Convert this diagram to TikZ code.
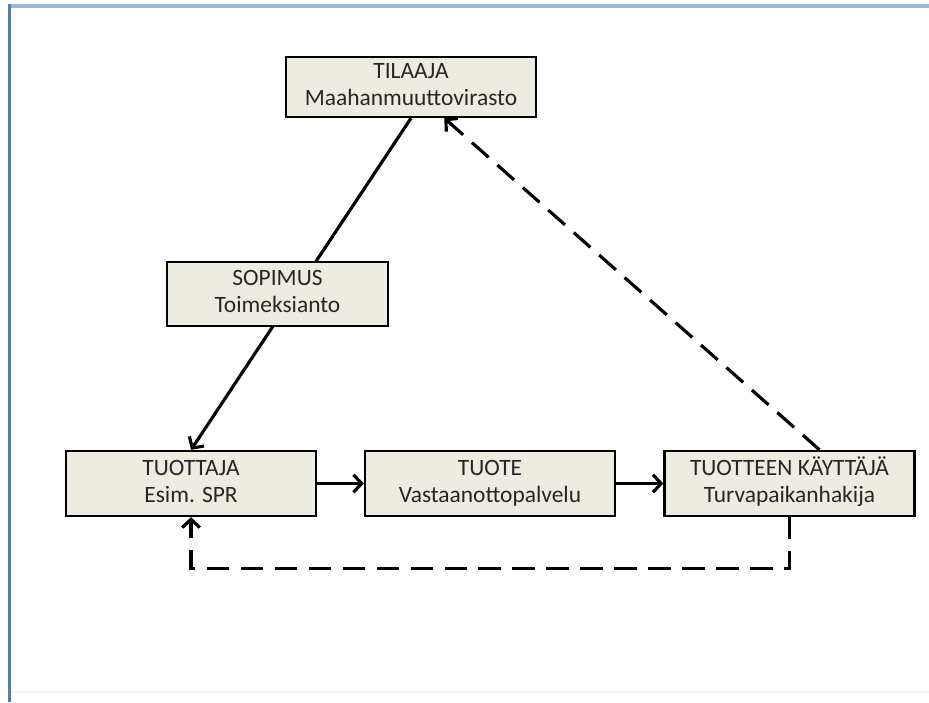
\documentclass[tikz,border=0pt]{standalone}
\usepackage{fontspec}
\setmainfont{Carlito}
\usetikzlibrary{arrows.meta,calc}
\definecolor{BoxClr}{RGB}{238,236,225}
\definecolor{FrameClr}{RGB}{84,124,182}
\definecolor{FrameTopClr}{RGB}{158,183,220}

\begin{document}
\begin{tikzpicture}[x=0.03cm,y=-0.03cm,
  box/.style={draw=black,line width=2pt,fill=BoxClr,text=black!85,
    minimum width=7.5cm,minimum height=1.95cm,inner sep=0pt,align=center,
    font=\fontsize{20}{23}\selectfont},
  link/.style={line width=2.7pt,-{Straight Barb[length=7pt,width=15pt]}},
  back/.style={link,dash pattern=on 19pt off 10pt}]

\useasboundingbox (0,0) rectangle (929,702);

% frame
\fill[FrameTopClr] (8,4) rectangle (929,8);
\fill[FrameClr] (8,4) rectangle (11,702);
\fill[black!4] (11,691) rectangle (929,693);

\node[box,minimum height=1.8cm] (tilaaja) at (411,87) {TILAAJA\strut\\Maahanmuuttovirasto\strut};
\node[box] (tuottaja) at (191,483.5) {TUOTTAJA\strut\\Esim. SPR\strut};
\node[box] (tuote) at (490,483.5) {TUOTE\strut\\Vastaanottopalvelu\strut};
\node[box] (kayttaja) at (789.5,483.5) {TUOTTEEN KÄYTTÄJÄ\strut\\Turvapaikanhakija\strut};

\draw[link] (tilaaja.south) -- (tuottaja.north);
\node[box,minimum width=6.63cm,minimum height=1.92cm] (sopimus) at (277.5,294) {SOPIMUS\strut\\Toimeksianto\strut};

\draw[link] (tuottaja) -- (tuote);
\draw[link] (tuote) -- (kayttaja);
\draw[back] ([xshift=0.9cm]kayttaja.north) -- ([xshift=1cm]tilaaja.south);
\draw[back] (kayttaja.south) -- ++(0,51) -| (tuottaja.south);

\end{tikzpicture}
\end{document}
